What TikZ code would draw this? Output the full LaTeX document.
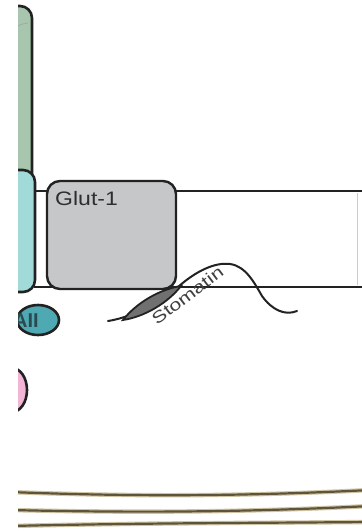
\documentclass[tikz,border=0pt]{standalone}
\usepackage{fontspec}
\usepackage{graphicx}
\setmainfont{Liberation Sans}
\usetikzlibrary{shapes.geometric}
\definecolor{sage}{HTML}{A8C6AE}
\definecolor{paleteal}{HTML}{A2DADA}
\definecolor{glutgray}{HTML}{C6C7C9}
\definecolor{aiiteal}{HTML}{4FA9B2}
\definecolor{aiitext}{HTML}{2A4A50}
\definecolor{pinkfill}{HTML}{F3B5D5}
\definecolor{linedark}{HTML}{222222}
\definecolor{fibrecore}{HTML}{5E543A}
\definecolor{fibrehalo}{HTML}{CFC4A4}
\definecolor{leafgray}{HTML}{707070}
\begin{document}
\begin{tikzpicture}[x=1pt,y=-1pt,
  outline/.style={draw=linedark,line width=2.6pt},
  membraneline/.style={draw=linedark,line width=2.8pt},
  fibre/.style={line width=4.4pt,draw=fibrehalo},
  fibrecore/.style={line width=2.2pt,draw=fibrecore}]
\useasboundingbox (0,0) rectangle (362,531);
\fill[white] (0,0) rectangle (362,531);
\begin{scope}
\clip (18,0) rectangle (362,531);
% vertical green protein at the far left
\path[outline,fill=sage,rounded corners=12pt]
  (-10,6) rectangle (32,186);
\draw[gray!70,line width=0.8pt] (18,26) .. controls (22,24) .. (28,23);
% membrane bilayer
\draw[membraneline] (34,191) -- (362,191);
\draw[membraneline] (34,287) -- (362,287);
\draw[gray!40,line width=0.8pt] (357,193) -- (357,285);
% cyan channel
\path[outline,fill=paleteal,rounded corners=12pt]
  (-10,170) rectangle (35,292);
% Glut-1 transporter
\node[outline,line width=2.4pt,fill=glutgray,rounded corners=13pt,
  minimum width=129pt,minimum height=108pt,inner sep=0pt] (glut) at (111.5,235) {};
\node[anchor=base west,text=black!82,inner sep=0pt,font=\fontsize{19.5}{22}\selectfont]
  (glutlabel) at (55,205.5) {\scalebox{1.18}[1]{Glut-1}};
% AII
\node[ellipse,outline,fill=aiiteal,
  minimum width=42pt,minimum height=30pt,inner sep=0pt] (aii) at (38,320) {};
\node[text=aiitext,inner sep=0pt,anchor=base east,
  font=\fontsize{20}{22}\selectfont\bfseries] (aiilabel) at (39,327) {AII};
% pink protein
\node[ellipse,outline,fill=pinkfill,
  minimum width=30pt,minimum height=44pt,inner sep=0pt] (pinkp) at (12,390) {};
% Stomatin hairpin
\draw[linedark,line width=2pt,line cap=round] (108,321)
  .. controls (128,318) and (158,305) .. (178,287)
  .. controls (196,271) and (215,262) .. (230,264)
  .. controls (246,266) and (255,284) .. (262,296)
  .. controls (272,310) and (285,316) .. (297,311);
\path[draw=linedark,line width=1.8pt,fill=leafgray]
  (123,320) .. controls (144.4,316.8) and (167.8,303.0) .. (181,286)
  .. controls (159.6,289.2) and (136.2,303.0) .. (123,320) -- cycle;
\node[rotate=37,anchor=base,inner sep=0pt,text=black!75,
  font=\fontsize{16.5}{18}\selectfont] (stomlabel)
  at (191,300) {\scalebox{1.3}[1]{Stomatin}};
% cytoskeletal fibres
\foreach \a/\b/\c/\d in {492/497/496/490, 510/513/512/506, 526/523/523/522}{
  \draw[fibre] (10,\a) .. controls (140,\b) and (250,\c) .. (370,\d);
  \draw[fibrecore] (10,\a) .. controls (140,\b) and (250,\c) .. (370,\d);
}
\end{scope}
\end{tikzpicture}
\end{document}
